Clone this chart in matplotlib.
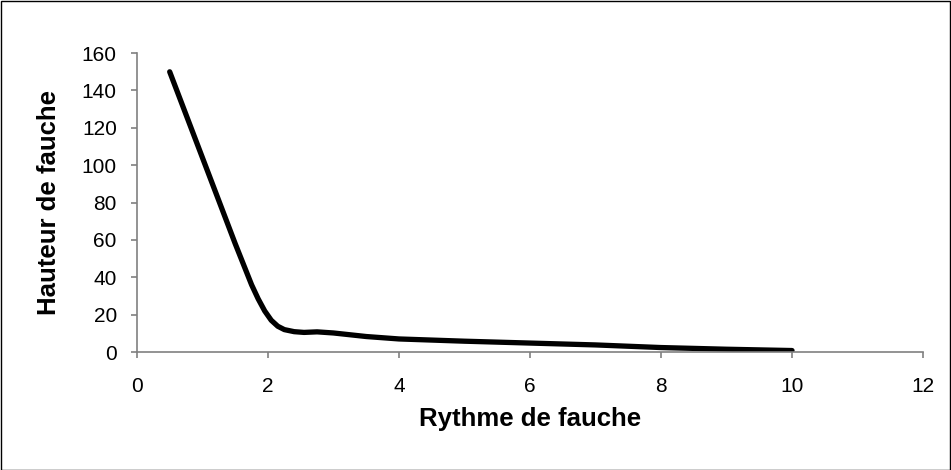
import matplotlib.pyplot as plt
from matplotlib.patches import Rectangle

plt.rcParams['font.family'] = ['Liberation Sans', 'DejaVu Sans']

rythme = [0.5, 0.75, 1.0, 1.25, 1.5, 1.75, 1.85, 1.95, 2.05, 2.15, 2.25, 2.4,
          2.55, 2.75, 3.0, 3.5, 4.0, 5.0, 6.0, 7.0, 8.0, 9.0, 10.0]
hauteur = [150, 127, 104, 81, 58, 36, 28.5, 22, 17, 13.8, 12, 10.9,
           10.5, 10.8, 10.2, 8.3, 7, 5.8, 4.8, 3.8, 2.4, 1.5, 0.8]

x_ticks = [0, 2, 4, 6, 8, 10, 12]
y_ticks = [0, 20, 40, 60, 80, 100, 120, 140, 160]

fig = plt.figure(figsize=(9.51, 4.70), dpi=100)
ax = fig.add_axes([0.144, 0.251, 0.8266, 0.636])

ax.plot(rythme, hauteur, color='black', linewidth=3.8,
        solid_capstyle='round', solid_joinstyle='round')

ax.set_xlim(0, 12)
ax.set_ylim(0, 160)
ax.set_xticks(x_ticks)
ax.set_yticks(y_ticks)

for side in ['top', 'right']:
    ax.spines[side].set_visible(False)
for side in ['left', 'bottom']:
    ax.spines[side].set_color('#808080')
    ax.spines[side].set_linewidth(1.2)

ax.tick_params(direction='out', length=4.5, width=1.2, color='#808080',
               labelsize=15)
ax.tick_params(axis='x', pad=13.5)
ax.tick_params(axis='y', pad=10)

ax.set_xlabel('Rythme de fauche', fontsize=18.5, fontweight='bold', labelpad=8)
ax.set_ylabel('Hauteur de fauche', fontsize=18.5, fontweight='bold', labelpad=15)

fig.patches.append(Rectangle((0.001, 0.001), 0.998, 0.997, transform=fig.transFigure,
                             fill=False, edgecolor='black', linewidth=1))

fig.savefig('out.png', dpi=100)
